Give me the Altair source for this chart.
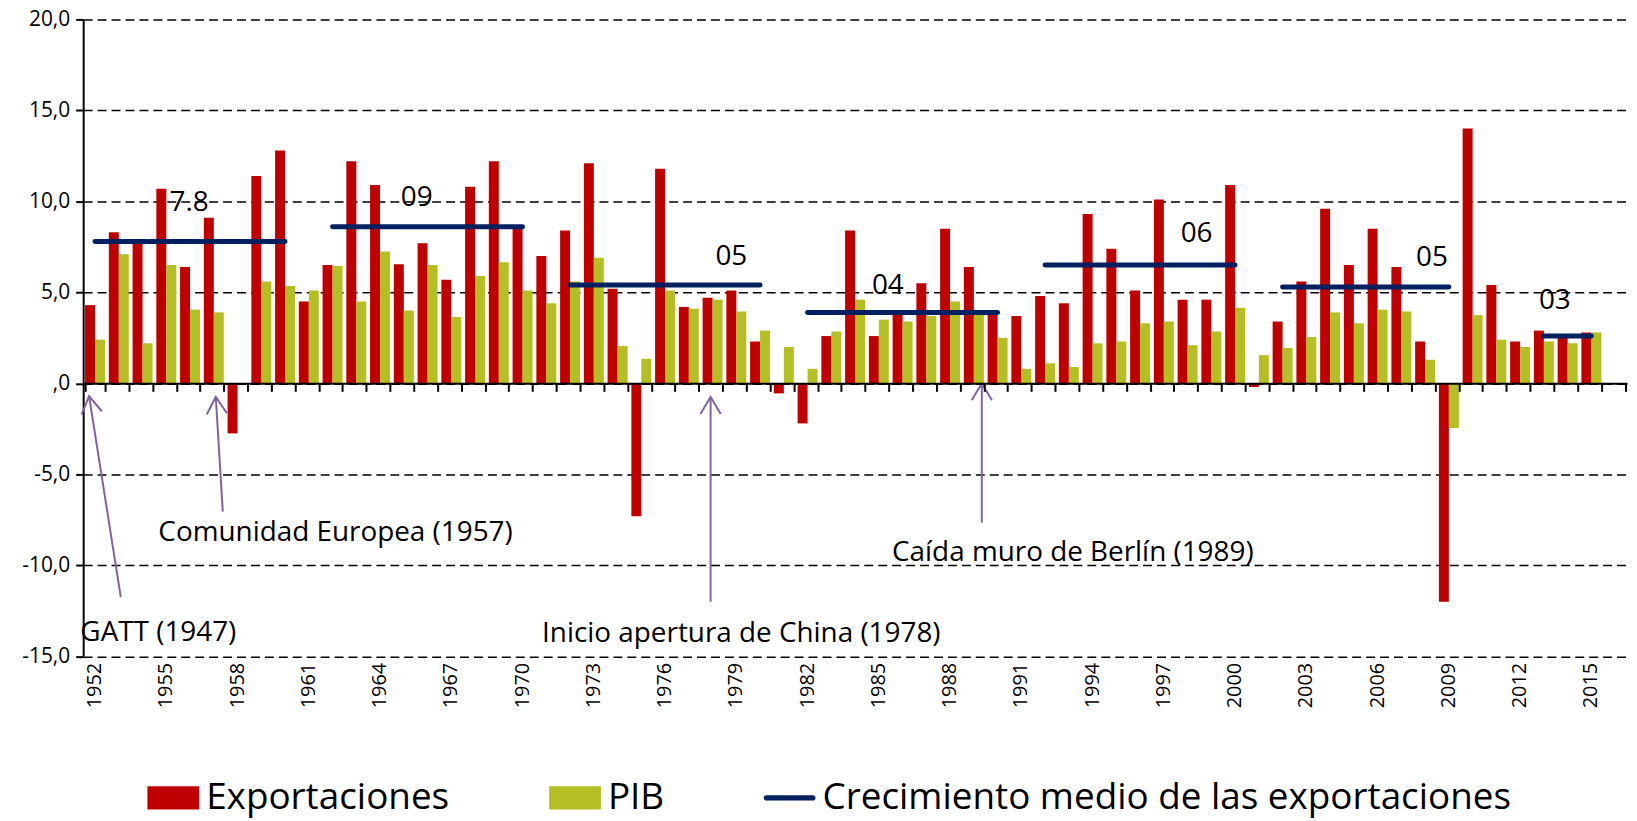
import altair as alt
import pandas as pd

# ---------------- data ----------------
anios = [str(a) for a in range(1952, 2016)]
dominio_anios = [str(a) for a in range(1952, 2017)]

exportaciones = [4.3, 8.3, 7.7, 10.7, 6.4, 9.1, -2.75, 11.4, 12.8, 4.5,
                 6.5, 12.2, 10.9, 6.55, 7.7, 5.7, 10.8, 12.2, 8.5, 7.0,
                 8.4, 12.1, 5.2, -7.3, 11.8, 4.2, 4.7, 5.1, 2.3, -0.55,
                 -2.2, 2.6, 8.4, 2.6, 3.8, 5.5, 8.5, 6.4, 3.8, 3.7,
                 4.8, 4.4, 9.3, 7.4, 5.1, 10.1, 4.6, 4.6, 10.9, -0.2,
                 3.4, 5.6, 9.6, 6.5, 8.5, 6.4, 2.3, -12.0, 14.0, 5.4,
                 2.3, 2.9, 2.5, 2.8]
pib = [2.4, 7.1, 2.2, 6.5, 4.05, 3.9, 0.0, 5.6, 5.35, 5.1,
       6.45, 4.5, 7.25, 4.0, 6.5, 3.65, 5.9, 6.65, 5.1, 4.4,
       5.6, 6.9, 2.05, 1.35, 5.1, 4.1, 4.6, 3.95, 2.9, 2.0,
       0.8, 2.85, 4.6, 3.5, 3.4, 3.7, 4.5, 3.8, 2.5, 0.8,
       1.1, 0.9, 2.2, 2.3, 3.3, 3.4, 2.1, 2.85, 4.15, 1.55,
       1.95, 2.55, 3.9, 3.3, 4.05, 3.95, 1.3, -2.45, 3.75, 2.4,
       2.0, 2.3, 2.2, 2.8]

series = ["Exportaciones", "PIB", "Crecimiento medio de las exportaciones"]
colores = ["#C00000", "#B3BF22", "#002060"]

media_inicio = ["1952", "1962", "1972", "1982", "1992", "2002", "2013"]
media_fin = ["1960", "1970", "1980", "1990", "2000", "2009", "2015"]
media_valor = [7.8, 8.6, 5.4, 3.9, 6.5, 5.3, 2.6]
media_etiqueta = ["7.8", "09", "05", "04", "06", "05", "03"]
etiqueta_anio = ["1956", "1965", "1979", "1985", "1998", "2009", "2013"]
etiqueta_y = [9.9, 10.2, 6.95, 5.35, 8.2, 6.9, 4.5]

hitos = ["GATT (1947)", "Comunidad Europea (1957)",
         "Inicio apertura de China (1978)", "Caída muro de Berlín (1989)"]
hito_anio = ["1955", "1962", "1979", "1993"]
hito_y = [-13.7, -8.25, -13.75, -9.3]
flecha_punta_anio = ["1952", "1957", "1978", "1989"]
flecha_punta_y = [-0.7, -0.75, -0.75, 0.0]
flecha_cola_anio = ["1953", "1957", "1978", "1989"]
flecha_cola_y = [-11.75, -7.05, -12.0, -7.65]

# ---------------- styles ----------------
W, H = 1550.5, 639.7
FONT = "Open Sans"
PURPLE = "#8064A2"
RECT = "M-1,-0.45H1V0.45H-1Z"
LINE = "M-0.9,-0.1H0.9A0.1,0.1 0 0 1 0.9,0.1H-0.9A0.1,0.1 0 0 1 -0.9,-0.1Z"
etiqueta_dx = [-1, 13, -5, 9, 9, -17, 11]
hito_dx = [-8, 3, 5, 4]
punta_dx = [-6, 2, -2, 8]
cola_dx = [2, 9, -2, 8]
punta_angulo = [351, 356.5, 0, 0]

df = pd.DataFrame({
    "anio": anios * 2,
    "valor": exportaciones + pib,
    "serie": [series[0]] * len(anios) + [series[1]] * len(anios),
})
df_media = pd.DataFrame({"inicio": media_inicio, "fin": media_fin,
                         "media": media_valor, "serie": series[2]})
df_leyenda = pd.DataFrame({"serie": series, "anio": [anios[0]] * 3, "y": [None] * 3})

x_scale = alt.Scale(domain=dominio_anios, paddingInner=0.16, paddingOuter=0.08)
y_scale = alt.Scale(domain=[-15, 20], nice=False, zero=False)
fill_scale = alt.Scale(domain=series[:2], range=colores[:2])
stroke_scale = alt.Scale(domain=series[2:], range=colores[2:])
color_scale = alt.Scale(domain=series, range=colores)
shape_scale = alt.Scale(domain=series, range=[RECT, RECT, LINE])

legend = alt.Legend(
    title=None, orient="none", legendX=64.5, legendY=755.9, direction="horizontal",
    labelFont=FONT, labelFontSize=37, labelColor="black", labelLimit=3000,
    symbolSize=2704, labelOffset=7, columnPadding=99.5, padding=0,
    symbolStrokeWidth=0, symbolOpacity=1,
)

label_axis = alt.Axis(
    orient="bottom", title=None, domain=False, ticks=False, grid=False,
    labelAngle=270, labelAlign="right", labelBaseline="middle",
    labelFontSize=20, labelFont=FONT, labelColor="black", labelPadding=6,
    labelOverlap=False,
    labelExpr="(toNumber(datum.value) - 1952) % 3 === 0 ? datum.value : ''",
)
zero_axis = alt.Axis(
    orient="bottom", title=None, labels=False, grid=False, domain=True,
    domainColor="black", domainWidth=2, ticks=True, tickBand="extent",
    tickSize=8, tickWidth=2, tickColor="black", offset=-H * 15 / 35, zindex=1,
)
y_axis = alt.Axis(
    title=None, values=list(range(-15, 25, 5)),
    labelExpr="datum.value === 0 ? ',0' : (datum.value < 0 ? '-' : '') + abs(datum.value) + ',0'",
    labelFontSize=21, labelFont=FONT, labelColor="black", labelPadding=6,
    domain=True, domainColor="black", domainWidth=2,
    ticks=True, tickSize=7.5, tickWidth=2, tickColor="black",
    grid=True, gridColor="black", gridDash=[9, 5], gridWidth=1.5,
)

bars = alt.Chart(df).mark_bar().encode(
    x=alt.X("anio:N", scale=x_scale, axis=label_axis, sort=dominio_anios),
    xOffset=alt.XOffset("serie:N", scale=alt.Scale(domain=series[:2])),
    y=alt.Y("valor:Q", scale=y_scale, axis=y_axis),
    fill=alt.Fill("serie:N", scale=fill_scale, legend=None),
)

medias = alt.Chart(df_media).mark_rule(strokeWidth=5, strokeCap="round").encode(
    x=alt.X("inicio:N", axis=zero_axis),
    x2="fin:N",
    y=alt.Y("media:Q", axis=None),
    stroke=alt.Stroke("serie:N", scale=stroke_scale, legend=None),
)

leyenda = alt.Chart(df_leyenda).mark_point(filled=True, opacity=1).encode(
    x=alt.X("anio:N", axis=None),
    y=alt.Y("y:Q", axis=None),
    color=alt.Color("serie:N", scale=color_scale, legend=legend),
    shape=alt.Shape("serie:N", scale=shape_scale, legend=legend),
)

layers = [bars, medias, leyenda]

for t, a, yv, dx in zip(media_etiqueta, etiqueta_anio, etiqueta_y, etiqueta_dx):
    d = pd.DataFrame({"x": [a], "y": [yv], "t": [t]})
    layers.append(alt.Chart(d).mark_text(
        font=FONT, fontSize=28, dx=dx, align="center", baseline="middle", color="black"
    ).encode(x=alt.X("x:N", axis=None), y=alt.Y("y:Q", axis=None), text="t:N"))

for t, a, yv, dx in zip(hitos, hito_anio, hito_y, hito_dx):
    d = pd.DataFrame({"x": [a], "y": [yv], "t": [t]})
    layers.append(alt.Chart(d).mark_text(
        font=FONT, fontSize=28, dx=dx, align="center", baseline="middle", color="black"
    ).encode(x=alt.X("x:N", axis=None), y=alt.Y("y:Q", axis=None), text="t:N"))

for i in range(len(flecha_punta_anio)):
    d = pd.DataFrame({"x": [flecha_punta_anio[i]], "x2": [flecha_cola_anio[i]],
                      "y": [flecha_punta_y[i]], "y2": [flecha_cola_y[i]]})
    layers.append(alt.Chart(d).mark_rule(
        color=PURPLE, strokeWidth=2, xOffset=punta_dx[i], x2Offset=cola_dx[i]
    ).encode(x=alt.X("x:N", axis=None), x2="x2:N",
             y=alt.Y("y:Q", axis=None), y2="y2:Q"))
    layers.append(alt.Chart(d).mark_point(
        shape="M-0.6,1L0,0L0.6,1", size=1156, filled=False, color=PURPLE,
        strokeWidth=2, angle=punta_angulo[i], xOffset=punta_dx[i], opacity=1
    ).encode(x=alt.X("x:N", axis=None), y=alt.Y("y:Q", axis=None)))

chart = alt.layer(*layers).resolve_axis(x="independent", y="independent").properties(
    width=W, height=H,
    autosize=alt.AutoSizeParams(type="none"),
    padding={"left": 75.5, "top": 9.7, "right": 2, "bottom": 163.3},
).configure(font=FONT).configure_view(stroke=None)

chart.save("out.html", embed_options={"renderer": "svg", "actions": False})
